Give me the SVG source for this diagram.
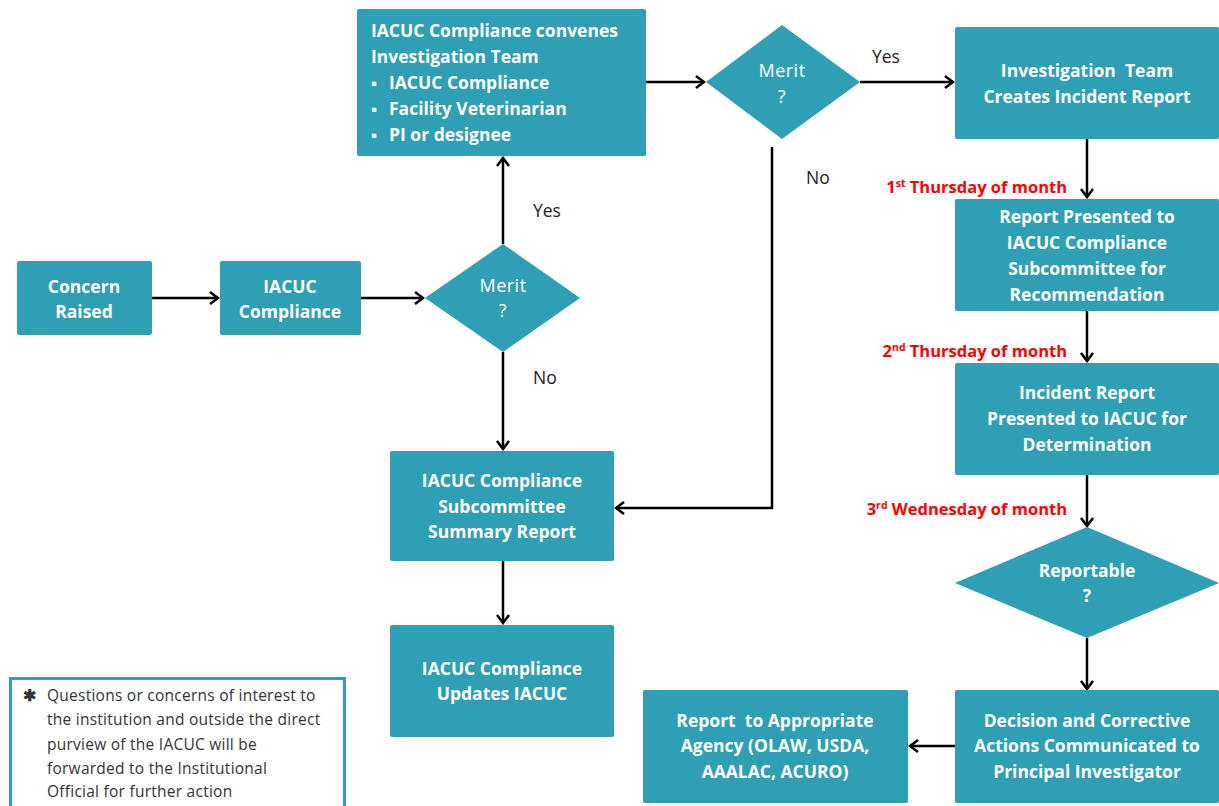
<svg xmlns="http://www.w3.org/2000/svg" width="1219" height="806" viewBox="0 0 1219 806">
<style>
.box{fill:#2E9FB4;}
.t{font-family:"Open Sans",sans-serif;font-weight:bold;font-size:17.5px;fill:#fff;text-anchor:middle;}
.tl{font-family:"Open Sans",sans-serif;font-weight:bold;font-size:17.5px;fill:#fff;}
.bul{font-family:"Open Sans",sans-serif;font-weight:bold;font-size:17px;fill:#fff;}
.dm{font-family:"Open Sans",sans-serif;font-size:18px;letter-spacing:0.5px;fill:#fff;text-anchor:middle;}
.lbl{font-family:"Open Sans",sans-serif;font-size:17.5px;fill:#222;}
.red{font-family:"Open Sans",sans-serif;font-weight:bold;font-size:16.5px;fill:#FF0000;text-anchor:end;}
.sup{font-size:10.5px;}
.note{font-family:"Open Sans",sans-serif;font-size:15.5px;letter-spacing:0.25px;fill:#333;}
.c{fill:none;stroke:#000;stroke-width:2.5;}
</style>
<defs>
<marker id="ah" markerWidth="12" markerHeight="14" refX="10" refY="7" orient="auto" markerUnits="userSpaceOnUse">
<path d="M2,1 L10,7 L2,13" fill="none" stroke="#000" stroke-width="2.5"/>
</marker>
</defs>
<rect width="1219" height="806" fill="#fff"/>
<g id="connectors">
<line class="c" x1="151" y1="298" x2="218" y2="298" marker-end="url(#ah)"/>
<line class="c" x1="361" y1="298" x2="423" y2="298" marker-end="url(#ah)"/>
<line class="c" x1="503" y1="244" x2="503" y2="158" marker-end="url(#ah)"/>
<line class="c" x1="503" y1="352" x2="503" y2="449" marker-end="url(#ah)"/>
<line class="c" x1="646" y1="82" x2="704" y2="82" marker-end="url(#ah)"/>
<line class="c" x1="860" y1="82" x2="953" y2="82" marker-end="url(#ah)"/>
<polyline class="c" points="772,147 772,508 616,508" marker-end="url(#ah)"/>
<line class="c" x1="1087" y1="139" x2="1087" y2="197" marker-end="url(#ah)"/>
<line class="c" x1="1087" y1="311" x2="1087" y2="361" marker-end="url(#ah)"/>
<line class="c" x1="1087" y1="475" x2="1087" y2="526" marker-end="url(#ah)"/>
<line class="c" x1="1087" y1="638" x2="1087" y2="689" marker-end="url(#ah)"/>
<line class="c" x1="955" y1="746" x2="910" y2="746" marker-end="url(#ah)"/>
<line class="c" x1="503" y1="561" x2="503" y2="623" marker-end="url(#ah)"/>
<text class="lbl" x="533" y="217">Yes</text>
<text class="lbl" x="533" y="384">No</text>
<text class="lbl" x="872" y="63">Yes</text>
<text class="lbl" x="806" y="184">No</text>
<text class="red" x="1067" y="193">1<tspan class="sup" dy="-6">st</tspan><tspan dy="6"> Thursday of month</tspan></text>
<text class="red" x="1067" y="357">2<tspan class="sup" dy="-6">nd</tspan><tspan dy="6"> Thursday of month</tspan></text>
<text class="red" x="1067" y="515">3<tspan class="sup" dy="-6">rd</tspan><tspan dy="6"> Wednesday of month</tspan></text>
</g>
<g id="concern">
<rect class="box" x="17" y="261" width="135" height="74" rx="2"/>
<text class="t" x="84" y="293">Concern</text>
<text class="t" x="84" y="318">Raised</text>
</g>
<g id="iacuc">
<rect class="box" x="220" y="261" width="141" height="74" rx="2"/>
<text class="t" x="290" y="293">IACUC</text>
<text class="t" x="290" y="318">Compliance</text>
</g>
<g id="merit1">
<polygon class="box" points="503,244 580,298 503,352 425,298"/>
<text class="dm" x="503" y="292">Merit</text>
<text class="dm" x="503" y="317">?</text>
</g>
<g id="convenes">
<rect class="box" x="357" y="9" width="289" height="147" rx="2"/>
<text class="tl" x="371" y="37">IACUC Compliance convenes</text>
<text class="tl" x="371" y="63">Investigation Team</text>
<text class="bul" x="371" y="89">▪</text><text class="tl" x="389" y="89">IACUC Compliance</text>
<text class="bul" x="371" y="115">▪</text><text class="tl" x="389" y="115">Facility Veterinarian</text>
<text class="bul" x="371" y="141">▪</text><text class="tl" x="389" y="141">PI or designee</text>
</g>
<g id="merit2">
<polygon class="box" points="782,25 860,82 782,139 706,82"/>
<text class="dm" x="782" y="77">Merit</text>
<text class="dm" x="782" y="103">?</text>
</g>
<g id="invteam">
<rect class="box" x="955" y="27" width="264" height="112" rx="2"/>
<text class="t" x="1087" y="77" xml:space="preserve">Investigation  Team</text>
<text class="t" x="1087" y="103">Creates Incident Report</text>
</g>
<g id="presented">
<rect class="box" x="955" y="199" width="264" height="112" rx="2"/>
<text class="t" x="1087" y="223">Report Presented to</text>
<text class="t" x="1087" y="249">IACUC Compliance</text>
<text class="t" x="1087" y="275">Subcommittee for</text>
<text class="t" x="1087" y="301">Recommendation</text>
</g>
<g id="incident">
<rect class="box" x="955" y="363" width="264" height="112" rx="2"/>
<text class="t" x="1087" y="399">Incident Report</text>
<text class="t" x="1087" y="425">Presented to IACUC for</text>
<text class="t" x="1087" y="451">Determination</text>
</g>
<g id="reportable">
<polygon class="box" points="1087,527 1219,583 1087,638 955,583"/>
<text class="t" x="1087" y="577">Reportable</text>
<text class="t" x="1087" y="602">?</text>
</g>
<g id="decision">
<rect class="box" x="955" y="690" width="264" height="113" rx="2"/>
<text class="t" x="1087" y="727">Decision and Corrective</text>
<text class="t" x="1087" y="752">Actions Communicated to</text>
<text class="t" x="1087" y="778">Principal Investigator</text>
</g>
<g id="agency">
<rect class="box" x="643" y="690" width="265" height="113" rx="2"/>
<text class="t" x="775" y="727" xml:space="preserve">Report  to Appropriate</text>
<text class="t" x="775" y="752">Agency (OLAW, USDA,</text>
<text class="t" x="775" y="778">AAALAC, ACURO)</text>
</g>
<g id="summary">
<rect class="box" x="390" y="451" width="224" height="110" rx="2"/>
<text class="t" x="502" y="487">IACUC Compliance</text>
<text class="t" x="502" y="513">Subcommittee</text>
<text class="t" x="502" y="538">Summary Report</text>
</g>
<g id="updates">
<rect class="box" x="390" y="625" width="224" height="112" rx="2"/>
<text class="t" x="502" y="675">IACUC Compliance</text>
<text class="t" x="502" y="700">Updates IACUC</text>
</g>
<g id="note">
<rect x="10.5" y="678.5" width="334" height="135" fill="#fff" stroke="#2E9FB4" stroke-width="3"/>
<text class="note" x="23" y="701" font-weight="bold">✱</text>
<text class="note" x="47" y="701">Questions or concerns of interest to</text>
<text class="note" x="47" y="725">the institution and outside the direct</text>
<text class="note" x="47" y="750">purview of the IACUC will be</text>
<text class="note" x="47" y="774">forwarded to the Institutional</text>
<text class="note" x="47" y="797">Official for further action</text>
</g>
</svg>
